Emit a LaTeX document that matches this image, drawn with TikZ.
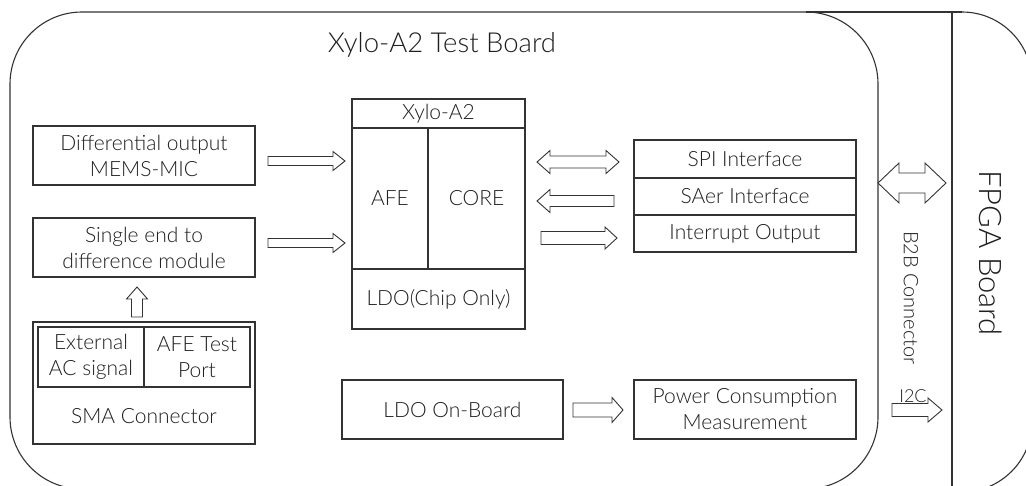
\documentclass[tikz,border=0pt]{standalone}
\usepackage{fontspec}
\setmainfont{Lato}[UprightFont={* Light}]
\usetikzlibrary{calc}
\definecolor{ln}{HTML}{333333}
\definecolor{tx}{HTML}{1E1E1E}
\tikzset{
  box/.style={draw=ln, line width=1.1pt, inner sep=0pt, outer sep=0pt, text=tx,
    font=\fontsize{21}{26}\selectfont, align=center},
  lbl/.style={inner sep=0pt, text=tx, font=\fontsize{21}{26}\selectfont, align=center},
  board/.style={draw=ln, line width=1.1pt},
  arr/.style={draw=ln, line width=0.9pt, line join=miter, fill=white},
}
% box from corners (x1,y1)-(x2,y2) in pixel units
\newcommand\boxnode[6]{\node[box, minimum width={#4-#2}, minimum height={#5-#3}] (#1) at ({(#2+#4)/2},{(#3+#5)/2}) {#6};}
% single block arrow: #1 tail, #2 tip, #3 shaft half width, #4 head half width, #5 head length
\newcommand\blockarrow[5]{%
  \coordinate (ba-h) at ($(#2)!#5pt!(#1)$);
  \draw[arr] ($(#1)!#3pt!-90:(#2)$) -- ($(ba-h)!#3pt!-90:(#2)$) -- ($(ba-h)!#4pt!-90:(#2)$)
    -- (#2) -- ($(ba-h)!#4pt!90:(#2)$) -- ($(ba-h)!#3pt!90:(#2)$)
    -- ($(#1)!#3pt!90:(#2)$) -- cycle;}
% double block arrow
\newcommand\dblarrow[5]{%
  \coordinate (ba-a) at ($(#1)!#5pt!(#2)$);
  \coordinate (ba-b) at ($(#2)!#5pt!(#1)$);
  \draw[arr] (#1) -- ($(ba-a)!#4pt!90:(#2)$) -- ($(ba-a)!#3pt!90:(#2)$)
    -- ($(ba-b)!#3pt!90:(#2)$) -- ($(ba-b)!#4pt!90:(#2)$) -- (#2)
    -- ($(ba-b)!#4pt!-90:(#2)$) -- ($(ba-b)!#3pt!-90:(#2)$)
    -- ($(ba-a)!#3pt!-90:(#2)$) -- ($(ba-a)!#4pt!-90:(#2)$) -- cycle;}
\begin{document}
\begin{tikzpicture}[x=1pt, y=-1pt]
\useasboundingbox (0,0) rectangle (1026,485);
\clip (0,0) rectangle (1026,485);
\fill[white] (0,0) rectangle (1026,485);
% boards
\draw[board, rounded corners=72pt] (10,12) rectangle (878,489);
\coordinate (tbtop) at (806,12);
\coordinate (fpgatl) at (952,12);
\coordinate (fpgabl) at (952,492);
\draw[board] (tbtop) -- (fpgatl) -- (fpgabl);
\draw[board] (fpgatl) -- (962,12);
\draw[board, rounded corners=70pt] (962,12) -- (1032,12) -- (1032,492) -- (962,492);
\node[lbl, font=\fontsize{27.5}{30}\selectfont] (title) at (442,45) {Xylo-A2 Test Board};
\node[lbl, rotate=-90, font=\fontsize{20}{22}\selectfont] (b2b) at (911,298) {B2B Connector};
\node[lbl, rotate=-90, font=\fontsize{31}{34}\selectfont] (fpga) at (991,253) {FPGA Board};
% left column
\boxnode{mems}{33}{126}{255}{185}{Differential output\\MEMS-MIC}
\boxnode{single}{33}{218}{255}{277}{Single end to\\difference module}
\boxnode{sma}{33}{322}{255}{444}{}
\boxnode{ext}{38}{327}{144}{387}{External\\AC signal}
\boxnode{afet}{144}{327}{250}{387}{AFE Test\\Port}
\node[lbl] (smalbl) at (144,416) {SMA Connector};
% chip
\boxnode{chipt}{352}{99}{525}{128}{Xylo-A2}
\boxnode{afe}{352}{128}{428}{269}{AFE}
\boxnode{core}{428}{128}{525}{269}{CORE}
\boxnode{ldoc}{352}{269}{525}{329}{LDO(Chip Only)}
% interfaces
\boxnode{spi}{634}{140}{856}{178}{SPI Interface}
\boxnode{saer}{634}{178}{856}{215}{SAer Interface}
\boxnode{intr}{634}{215}{856}{252}{Interrupt Output}
% power
\boxnode{ldob}{342}{380}{563}{439}{LDO On-Board}
\boxnode{pwr}{634}{380}{856}{439}{Power Consumption\\Measurement}
% arrow end points
\coordinate (a1s) at (268,161); \coordinate (a1e) at (345,161);
\coordinate (a2s) at (268,243); \coordinate (a2e) at (345,243);
\coordinate (a3s) at (137,317); \coordinate (a3e) at (137,287);
\coordinate (a4s) at (537,162); \coordinate (a4e) at (619,162);
\coordinate (a5s) at (614,201); \coordinate (a5e) at (537,201);
\coordinate (a6s) at (541,238); \coordinate (a6e) at (617,238);
\coordinate (a7s) at (878,183); \coordinate (a7e) at (946,183);
\coordinate (a8s) at (573,410); \coordinate (a8e) at (623,410);
\coordinate (a9s) at (892,410); \coordinate (a9e) at (942,410);
\blockarrow{a1s}{a1e}{4.5}{9.5}{12}
\blockarrow{a2s}{a2e}{4.5}{9.5}{12}
\blockarrow{a3s}{a3e}{5.5}{10.5}{12}
\dblarrow{a4s}{a4e}{6}{11.5}{13}
\blockarrow{a5s}{a5e}{5.5}{11.5}{13}
\blockarrow{a6s}{a6e}{6.5}{11}{12}
\dblarrow{a7s}{a7e}{10}{20}{21}
\blockarrow{a8s}{a8e}{7}{12.5}{11}
\blockarrow{a9s}{a9e}{6.5}{12}{14}
\node[lbl, anchor=base, font=\fontsize{18}{20}\selectfont] (i2c) at (913,402) {I2C};
\end{tikzpicture}
\end{document}
